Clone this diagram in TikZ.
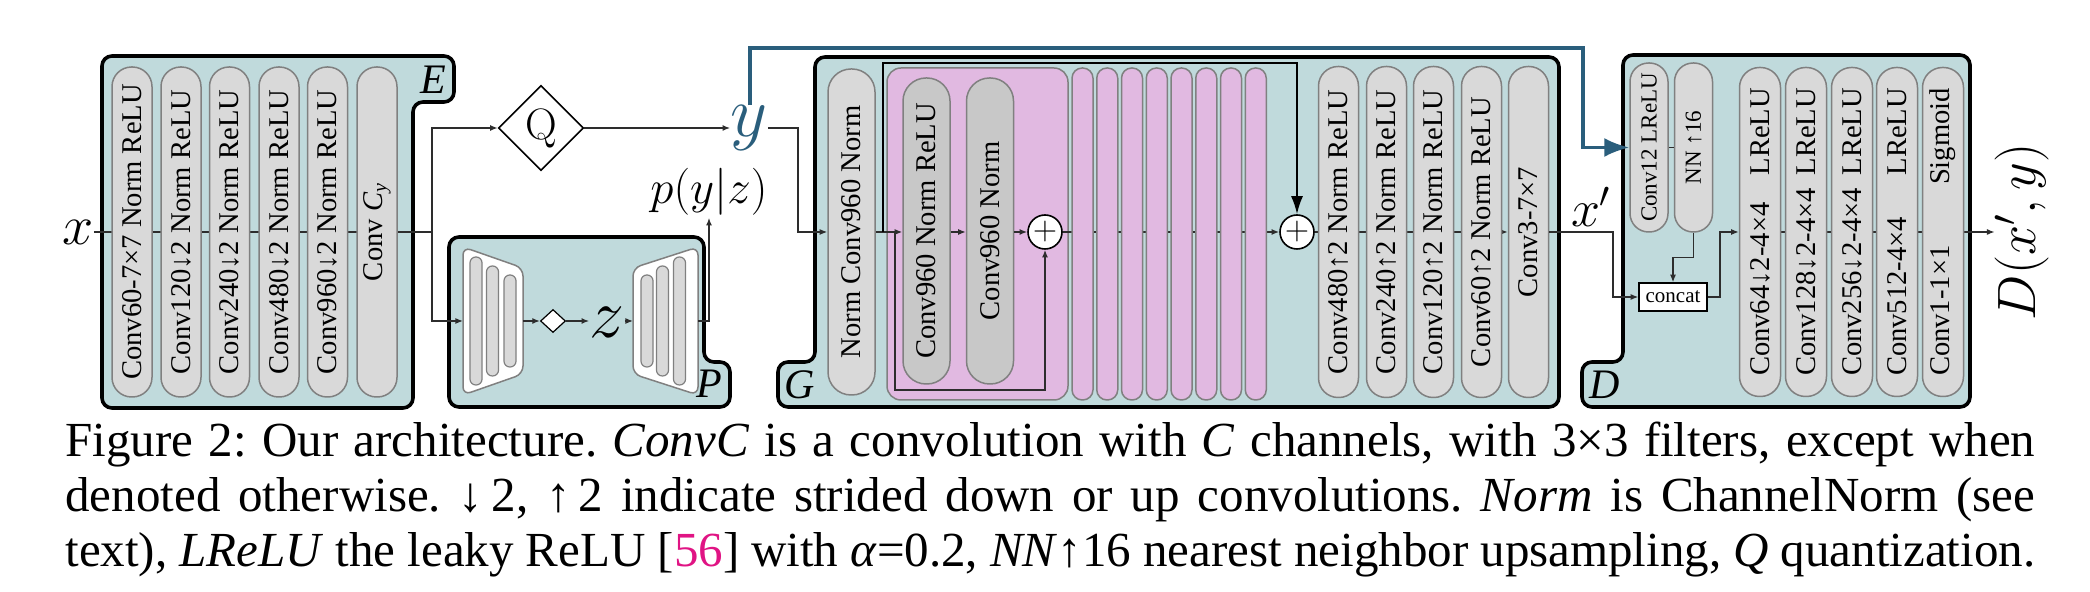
\documentclass[tikz,border=0pt]{standalone}
\usepackage{fix-cm}
\usepackage{fontspec}
\usetikzlibrary{arrows.meta,shapes.geometric,calc}
\newfontfamily\tms{Liberation Serif}
\newcommand\bxfont{\tms\fontsize{14.3pt}{16pt}\selectfont}
\newcommand\smbxfont{\tms\fontsize{11.5pt}{13pt}\selectfont}
\newcommand\capfont{\tms\fontsize{24.5pt}{27.5pt}\selectfont\frenchspacing}
\definecolor{tealfill}{RGB}{192,218,220}
\definecolor{colfill}{RGB}{217,217,217}
\definecolor{colfilldark}{RGB}{200,200,200}
\definecolor{colborder}{RGB}{128,128,128}
\definecolor{pinkfill}{RGB}{225,185,225}
\definecolor{yblue}{RGB}{42,94,124}
\definecolor{linecol}{RGB}{45,45,45}
\definecolor{citecol}{RGB}{224,20,132}
\pgfdeclarelayer{blocks}
\pgfdeclarelayer{lines}
\pgfsetlayers{blocks,lines,main}
\tikzset{
  blk/.style={draw=black, line width=1.8pt, fill=tealfill, rounded corners=5pt},
  pinkblk/.style={draw=colborder, line width=0.75pt, fill=pinkfill, rounded corners=7pt, inner sep=0pt},
  colbox/.style={draw=colborder, line width=0.75pt, fill=colfill, rotate=90, inner sep=0pt, font=\bxfont},
  ecol/.style={colbox, minimum width=165pt, minimum height=20pt, rounded corners=9.8pt},
  gcol/.style={colbox, minimum width=163pt, minimum height=23.5pt, rounded corners=11.5pt},
  icol/.style={colbox, fill=colfilldark, minimum width=153pt, minimum height=23.5pt, rounded corners=11.5pt},
  tcol/.style={colbox, fill=pinkfill, minimum width=166pt, minimum height=10.5pt, rounded corners=5.1pt},
  ucol/.style={colbox, minimum width=165.5pt, minimum height=20pt, rounded corners=9.8pt},
  scol/.style={colbox, font=\smbxfont, minimum width=84.5pt, minimum height=19pt, rounded corners=9.3pt},
  dcol/.style={colbox, minimum width=164.5pt, minimum height=20.5pt, rounded corners=10pt},
  mini/.style={draw=colborder, fill=colfill, line width=0.6pt, rotate=90, inner sep=0pt, minimum height=6pt, rounded corners=2.9pt},
  trap/.style={draw=colborder, fill=white, line width=0.75pt, rounded corners=4pt},
  conn/.style={draw=linecol, line width=0.65pt},
  arr/.style={conn, -{Latex[length=3.8pt,width=3pt]}},
  skiparr/.style={draw=black, line width=0.9pt, -{Latex[length=9pt,width=6pt]}},
  bluearr/.style={draw=yblue, line width=1.6pt, -{Latex[length=12.5pt,width=9.5pt]}},
  adder/.style={circle, draw=black, fill=white, line width=0.8pt, minimum size=17pt, inner sep=0pt},
  lbl/.style={font=\tms\itshape\fontsize{21pt}{21pt}\selectfont, inner sep=0pt},
  mathlbl/.style={inner sep=0pt},
}
\begin{document}
\begin{tikzpicture}[x=0.5pt,y=-0.5pt]
\useasboundingbox (0,0) rectangle (2090,592);

% ---------- blocks ----------
\begin{pgfonlayer}{blocks}
\draw[blk] (102,56) -- (454,56) -- (454,102) -- (413,102) -- (413,408) -- (102,408) -- cycle;
\draw[blk] (449,237) -- (704,237) -- (704,362) -- (730,362) -- (730,407) -- (449,407) -- cycle;
\draw[blk] (815,57) -- (1559,57) -- (1559,407) -- (778,407) -- (778,362) -- (815,362) -- cycle;
\draw[blk] (1623,55) -- (1970,55) -- (1970,407) -- (1582,407) -- (1582,362) -- (1623,362) -- cycle;
\node[pinkblk, minimum width=90.5pt, minimum height=166pt] (res1) at (977.5,234) {};
\end{pgfonlayer}

\node[lbl] (lE) at (433,80) {E};
\node[lbl] (lP) at (709,384) {P};
\node[lbl] (lG) at (800,385) {G};
\node[lbl] (lD) at (1605,385) {D};

% ---------- E ----------
\node[ecol] (e1) at (132,232) {Conv60-7×7 Norm ReLU};
\node[ecol] (e2) at (181,232) {Conv120↓2 Norm ReLU};
\node[ecol] (e3) at (229.5,232) {Conv240↓2 Norm ReLU};
\node[ecol] (e4) at (279,232) {Conv480↓2 Norm ReLU};
\node[ecol] (e5) at (327.5,232) {Conv960↓2 Norm ReLU};
\node[ecol] (e6) at (377,232) {Conv {\itshape C}\textsubscript{\itshape y}};

\node[mathlbl, font=\fontsize{28pt}{28pt}\selectfont] (xl) at (78,232) {$x$};

% ---------- Q, y ----------
\node[diamond, draw=black, line width=0.8pt, minimum width=42.5pt, minimum height=42.5pt, inner sep=0pt, font=\fontsize{22pt}{22pt}\selectfont] (q) at (541,128) {Q};
\node[mathlbl, text=yblue, font=\fontsize{36pt}{36pt}\selectfont] (yl) at (749,128) {$y$};
\node[inner sep=1pt, font=\fontsize{23.5pt}{23.5pt}\selectfont] (pyz) at (709,192) {$p(y|z)$};

% ---------- P ----------
\draw[trap] (463,247) -- (523,268) -- (523,374) -- (463,395) -- cycle;
\node[mini, minimum width=64pt] (h1) at (476,321) {};
\node[mini, minimum width=55pt] (h2) at (492.5,321) {};
\node[mini, minimum width=46pt] (h3) at (510,321) {};
\draw[trap] (633,268) -- (698,247) -- (698,395) -- (633,374) -- cycle;
\node[mini, minimum width=46pt] (h4) at (647,321) {};
\node[mini, minimum width=55pt] (h5) at (662.5,321) {};
\node[mini, minimum width=64pt] (h6) at (679.5,321) {};
\coordinate (encin) at (463,321);
\coordinate (encout) at (523,321);
\coordinate (decin) at (633,321);
\coordinate (decout) at (698,321);
\node[diamond, draw=black, fill=white, line width=0.6pt, minimum width=12.5pt, minimum height=11.5pt, inner sep=0pt] (sd) at (553,321) {};
\node[mathlbl, font=\fontsize{35pt}{35pt}\selectfont] (zl) at (607,322) {$z$};

% ---------- G ----------
\node[gcol] (g1) at (851.5,232) {Norm Conv960 Norm};
\node[icol] (ci1) at (926.5,231) {Conv960 Norm ReLU};
\node[icol] (ci2) at (990,231) {Conv960 Norm};
\node[adder] (add1) at (1045,232) {\fontsize{16pt}{16pt}\selectfont$+$};
\node[tcol] (t1) at (1082.5,234) {};
\node[tcol] (t2) at (1107.25,234) {};
\node[tcol] (t3) at (1132,234) {};
\node[tcol] (t4) at (1156.75,234) {};
\node[tcol] (t5) at (1181.5,234) {};
\node[tcol] (t6) at (1206.25,234) {};
\node[tcol] (t7) at (1231,234) {};
\node[tcol] (t8) at (1255.75,234) {};
\node[adder] (add2) at (1297,232) {\fontsize{16pt}{16pt}\selectfont$+$};
\node[ucol] (u1) at (1338.5,232) {Conv480↑2 Norm ReLU};
\node[ucol] (u2) at (1386.5,232) {Conv240↑2 Norm ReLU};
\node[ucol] (u3) at (1433.5,232) {Conv120↑2 Norm ReLU};
\node[ucol] (u4) at (1481.5,232) {Conv60↑2 Norm ReLU};
\node[ucol] (u5) at (1528.5,232) {Conv3-7×7};
\node[mathlbl, font=\fontsize{26pt}{26pt}\selectfont] (xp) at (1591,207) {$x'$};

% ---------- D ----------
\node[scol] (d12) at (1649,147.5) {Conv12 LReLU};
\node[scol] (nn) at (1693.5,147.5) {NN ↑16};
\node[draw=black, fill=white, line width=0.7pt, minimum width=34pt, minimum height=14pt, inner sep=0pt, font=\tms\fontsize{10.5pt}{10.5pt}\selectfont] (cc) at (1673,297) {concat};
\node[dcol] (dc1) at (1760,232) {\makebox[144pt]{Conv64↓2-4×4\hfill LReLU}};
\node[dcol] (dc2) at (1806,232) {\makebox[144pt]{Conv128↓2-4×4\hfill LReLU}};
\node[dcol] (dc3) at (1852,232) {\makebox[144pt]{Conv256↓2-4×4\hfill LReLU}};
\node[dcol] (dc4) at (1897,232) {\makebox[144pt]{Conv512-4×4\hfill LReLU}};
\node[dcol] (dc5) at (1943,232) {\makebox[144pt]{Conv1-1×1\hfill Sigmoid}};
\node[rotate=90, inner sep=0pt, font=\fontsize{27pt}{27pt}\selectfont] (dout) at (2022,232) {$D(x',y)$};

% ---------- connectors ----------
\coordinate (jE) at (432,232);
\coordinate (jQ) at (432,128);
\coordinate (jP) at (432,321);
\coordinate (pt) at (709,321);
\coordinate (yt1) at (798,128);
\coordinate (yt2) at (798,232);
\coordinate (b1) at (750,48);
\coordinate (b2) at (1583,48);
\coordinate (j1) at (883,232);
\coordinate (j2) at (895,232);
\coordinate (s1) at (883,63);
\coordinate (s2) at (1297,63);
\coordinate (r1) at (895,390);
\coordinate (r2) at (1045,390);
\coordinate (o1) at (1613,232);
\coordinate (o2) at (1613,297);
\coordinate (k2) at (1720,297);

\begin{pgfonlayer}{lines}
\draw[conn] (xl.east |- jE) -- (jE);
\draw[arr] (add1.east) -- (add2.west);
\draw[arr] (add2.east) -- (u5.north);
\draw[arr] (dc1.south) -- (dout.north);
\end{pgfonlayer}

\draw[arr] (jE) -- (jQ) -- (q.west);
\draw[arr] (jE) -- (jP) -- (encin);
\draw[arr] (encout) -- (sd.west);
\draw[arr] (sd.east) -- (zl.west |- sd.east);
\draw[arr] (zl.east |- decin) -- (decin);
\draw[arr] (decout) -- (pt) -- (pyz.south);
\draw[arr] (q.east) -- (yl.west |- q.east);
\draw[arr] (yl.east |- yt1) -- (yt1) -- (yt2) -- (g1.north |- yt2);
\draw[bluearr] (yl.north -| b1) -- (b1) -- (b2) |- (d12.north);

\draw[conn] (g1.south |- j1) -- (j1);
\draw[arr] (j1) -- (ci1.north |- j1);
\draw[skiparr] (j1) -- (s1) -- (s2) -- (add2.north);
\draw[arr] (j2) -- (r1) -- (r2) -- (add1.south);
\draw[arr] (ci1.south |- j1) -- (ci2.north |- j1);
\draw[arr] (ci2.south |- j1) -- (add1.west);

\draw[arr] (u5.south) -- (o1) -- (o2) -- (cc.west);
\draw[conn] (d12.south) -- (nn.north);
\draw[arr] (nn.west) -- ++(0,25) -| (cc.north);
\draw[arr] (cc.east) -- (k2) |- (dc1.north);

% ---------- caption ----------
\node[anchor=base west, inner sep=0pt] (cap1) at (65,457) {\capfont\makebox[985pt][s]{Figure 2: Our architecture. \textit{ConvC} is a convolution with \textit{C} channels, with 3×3 filters, except when}};
\node[anchor=base west, inner sep=0pt] (cap2) at (65,512) {\capfont\makebox[985pt][s]{denoted otherwise. ↓\,2, ↑\,2 indicate strided down or up convolutions. \textit{Norm} is ChannelNorm (see}};
\node[anchor=base west, inner sep=0pt] (cap3) at (65,567) {\capfont\makebox[985pt][s]{text), \textit{LReLU} the leaky ReLU [\textcolor{citecol}{56}] with \textit{α}=0.2, \textit{NN}↑16 nearest neighbor upsampling, \textit{Q} quantization.}};
\end{tikzpicture}
\end{document}
